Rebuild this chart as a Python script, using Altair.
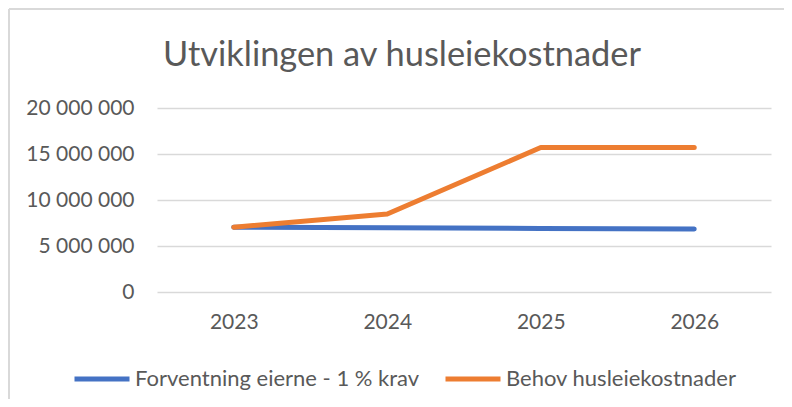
import altair as alt
import pandas as pd

years = ["2023", "2024", "2025", "2026"]
series_blue = "Forventning eierne - 1 % krav"
series_orange = "Behov husleiekostnader"
blue_values = [7050000, 6980000, 6910000, 6840000]
orange_values = [7050000, 8480000, 15700000, 15700000]
y_ticks = [0, 5000000, 10000000, 15000000, 20000000]

rows = []
for y, v in zip(years, blue_values):
    rows.append({"year": y, "series": series_blue, "value": v})
for y, v in zip(years, orange_values):
    rows.append({"year": y, "series": series_orange, "value": v})
df = pd.DataFrame(rows)

FONT = "Lato"
TXT = "#595959"
GRID = "#D9D9D9"

lines = alt.Chart(df).mark_line(strokeWidth=5, strokeCap="round", strokeJoin="round").encode(
    x=alt.X("year:O", scale=alt.Scale(type="point", padding=0.5), sort=years,
            axis=alt.Axis(title=None, labelAngle=0, domain=False, ticks=False,
                          labelPadding=19, labelFont=FONT, labelFontSize=21, labelColor=TXT)),
    y=alt.Y("value:Q", scale=alt.Scale(domain=[0, 20000000], nice=False),
            axis=alt.Axis(title=None, values=y_ticks, domain=False, ticks=False,
                          grid=True, gridColor=GRID, gridWidth=1.5,
                          labelPadding=23, labelFont=FONT, labelFontSize=21, labelColor=TXT,
                          labelExpr="replace(format(datum.value, ','), /,/g, ' ')")),
    color=alt.Color("series:N", sort=[series_blue, series_orange],
                    scale=alt.Scale(domain=[series_blue, series_orange], range=["#4472C4", "#ED7D31"]),
                    legend=alt.Legend(title=None, orient="none", legendX=-85, legendY=241,
                                      direction="horizontal", symbolType="stroke",
                                      symbolSize=3025, symbolStrokeWidth=5,
                                      labelFont=FONT, labelFontSize=22, labelColor=TXT,
                                      labelOffset=3, columnPadding=15, labelLimit=400)),
    order=alt.Order("year:O"),
)

border_left = alt.Chart(df).mark_rule(color=GRID, strokeWidth=1.5).encode(
    x=alt.value(-148), y=alt.value(-99), y2=alt.value(300)
)
border_top = alt.Chart(df).mark_rule(color=GRID, strokeWidth=1.5).encode(
    x=alt.value(-148), x2=alt.value(640), y=alt.value(-99)
)

chart = alt.layer(border_left, border_top, lines).properties(
    width=614, height=184,
    title=alt.TitleParams("Utviklingen av husleiekostnader", anchor="middle", dx=-62,
                          offset=-92, baseline="alphabetic",
                          font=FONT, fontSize=34.4, fontWeight="normal", color=TXT),
    autosize=alt.AutoSizeParams(type="none"),
    padding={"left": 149, "top": 100, "right": 13, "bottom": 107},
).configure(background="white").configure_view(stroke="transparent", strokeWidth=0)

chart.save("out.html", embed_options={"renderer": "svg", "actions": False})
